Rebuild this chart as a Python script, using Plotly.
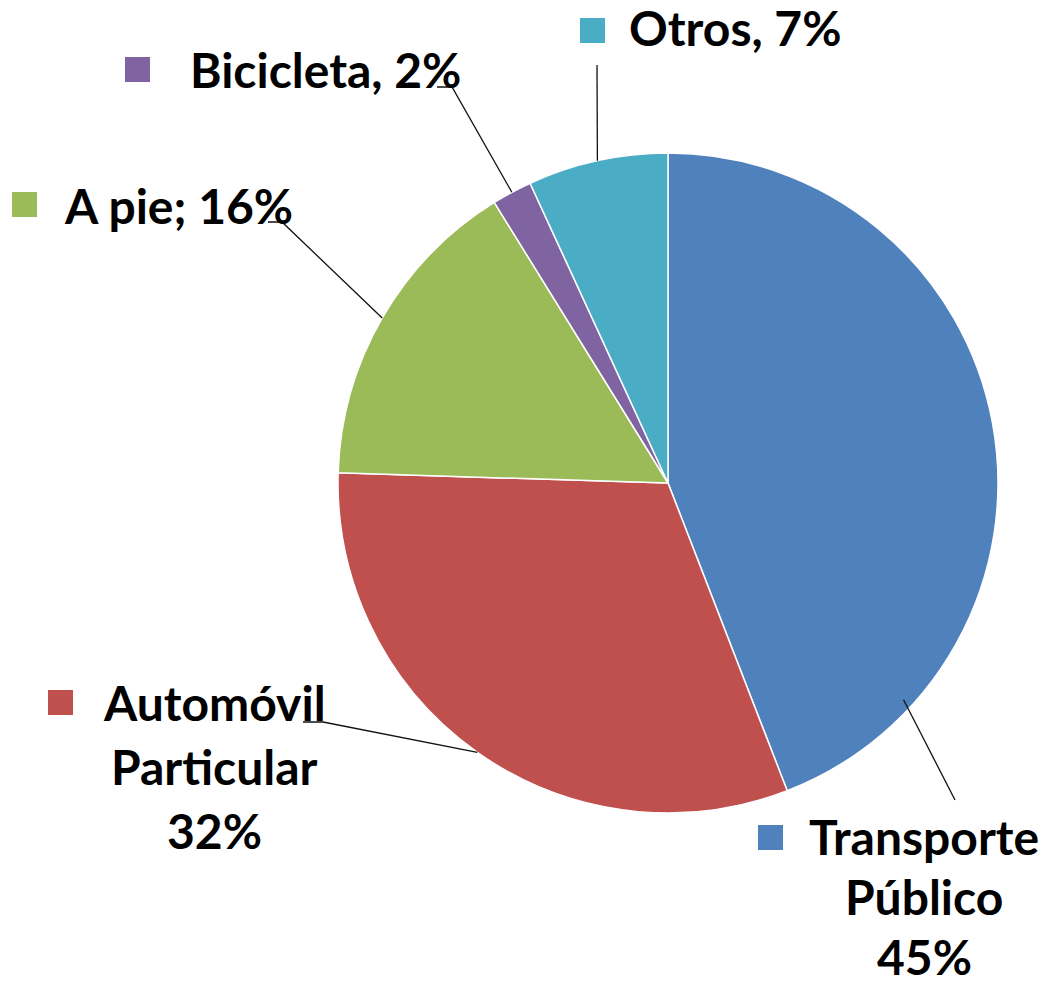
import math
import plotly.graph_objects as go

# ---- data ----
categories = ["Transporte Público", "Automóvil Particular", "A pie", "Bicicleta", "Otros"]
values = [45, 32, 16, 2, 7]
label_lines = [
    ["Transporte", "Público", "45%"],
    ["Automóvil", "Particular", "32%"],
    ["A pie; 16%"],
    ["Bicicleta, 2%"],
    ["Otros, 7%"],
]
colors = ["#4F81BD", "#C0504D", "#9BBB59", "#8064A2", "#4BACC6"]

# ---- layout constants (pixels) ----
W, H = 1051, 989
CX, CY, R = 668, 483, 330
FONT = "Lato"
FS = 48

def px(x):
    return x / W

def py(y):
    return 1 - y / H

# label placement
label_pos = [
    dict(x=924, xanchor="center", y=840, gap=60, key=(758, 825)),
    dict(x=214, xanchor="center", y=706, gap=64, key=(48, 690)),
    dict(x=62, xanchor="left", y=210, gap=0, key=(12, 192)),
    dict(x=188, xanchor="left", y=74, gap=0, key=(125, 57)),
    dict(x=627, xanchor="left", y=32, gap=0, key=(580, 18)),
]
KEY = 25
TEXT_DY = -4
# where leader lines touch each slice: (fraction of slice angle, fraction of radius)
anchor_frac = [(0.835, 0.97), (0.5, 1.0), (0.5, 1.0), (0.5, 1.0), (0.5, 1.0)]
# leader line label-side points (pixels)
leader_tail = [
    [(955, 800)],
    [(303, 722), (323, 722)],
    [(268, 222), (282, 222)],
    [(437, 87), (452, 87)],
    [(597, 65)],
]

fig = go.Figure(go.Pie(
    labels=categories,
    values=values,
    sort=False,
    direction="clockwise",
    rotation=0,
    marker=dict(colors=colors, line=dict(color="white", width=1.5)),
    textinfo="none",
    hoverinfo="label+percent",
    showlegend=False,
    domain=dict(x=[px(CX - R), px(CX + R)], y=[py(CY + R), py(CY - R)]),
))

total = sum(values)
cum = 0
shapes = []
annotations = []
for i, v in enumerate(values):
    a0 = cum / total * 2 * math.pi
    a1 = (cum + v) / total * 2 * math.pi
    cum += v
    fa, fr = anchor_frac[i]
    ang = a0 + fa * (a1 - a0)
    sx = CX + fr * R * math.sin(ang)
    sy = CY - fr * R * math.cos(ang)
    pts = leader_tail[i] + [(sx, sy)]
    path = "M " + " L ".join(f"{px(x):.5f},{py(y):.5f}" for x, y in pts)
    shapes.append(dict(type="path", xref="paper", yref="paper", path=path,
                       line=dict(color="#111111", width=1.3)))
    lp = label_pos[i]
    kx, ky = lp["key"]
    shapes.append(dict(type="rect", xref="paper", yref="paper",
                       x0=px(kx), x1=px(kx + KEY), y0=py(ky + KEY), y1=py(ky),
                       fillcolor=colors[i], line=dict(width=0)))
    for j, line in enumerate(label_lines[i]):
        annotations.append(dict(
            text=f"<b>{line}</b>", x=px(lp["x"]), y=py(lp["y"] + j * lp["gap"] + TEXT_DY),
            xref="paper", yref="paper", xanchor=lp["xanchor"], yanchor="middle",
            showarrow=False, font=dict(family=FONT, size=FS, color="#000000"),
        ))

fig.update_layout(
    width=W, height=H, autosize=False,
    margin=dict(l=0, r=0, t=0, b=0),
    paper_bgcolor="white", plot_bgcolor="white",
    shapes=shapes, annotations=annotations,
)

fig.write_html(
    "out.html",
    config={"displayModeBar": False},
    post_script="document.body.style.margin='0';document.body.style.overflow='hidden';",
)
